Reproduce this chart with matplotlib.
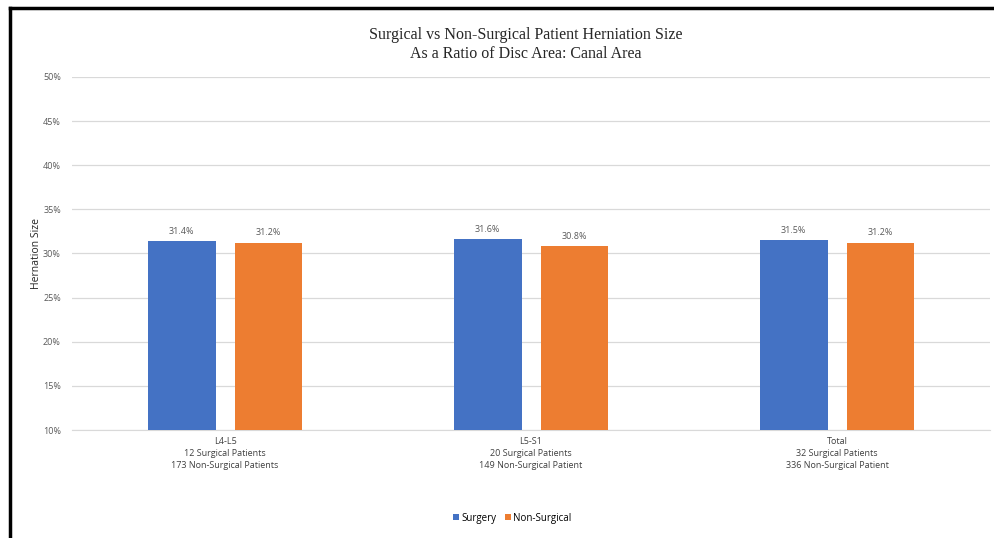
import matplotlib.pyplot as plt
import numpy as np
from matplotlib.lines import Line2D

# Herniation size as disc area : canal area ratio
categories = [
    "L4-L5\n12 Surgical Patients\n173 Non-Surgical Patients",
    "L5-S1\n20 Surgical Patients\n149 Non-Surgical Patient",
    "Total\n32 Surgical Patients\n336 Non-Surgical Patient",
]
surgery = [0.314, 0.316, 0.315]
non_surgical = [0.312, 0.308, 0.312]
yticks = [0.10, 0.15, 0.20, 0.25, 0.30, 0.35, 0.40, 0.45, 0.50]

blue = "#4472c4"
orange = "#ed7d31"
grey = "#595959"

fig = plt.figure(figsize=(9.95, 5.38), dpi=100)
ax = fig.add_axes([0.0724, 0.2007, 0.9226, 0.6563])

x = np.arange(len(categories))
w = 0.222
off = 0.142
b1 = ax.bar(x - off, surgery, w, color=blue, label="Surgery", zorder=3)
b2 = ax.bar(x + off, non_surgical, w, color=orange, label="Non-Surgical", zorder=3)

for bars, vals in ((b1, surgery), (b2, non_surgical)):
    for b, v in zip(bars, vals):
        ax.annotate(f"{v*100:.1f}%", (b.get_x() + b.get_width() / 2, v),
                    xytext=(0, 4), textcoords="offset points",
                    ha="center", va="bottom", fontsize=6.5, color=grey,
                    family="Open Sans")

ax.set_xlim(-0.5, 2.5)
ax.set_ylim(0.10, 0.50)
ax.set_yticks(yticks)
ax.set_yticklabels([f"{int(round(t*100))}%" for t in yticks], fontsize=6.5,
                   color=grey, family="Open Sans")
ax.set_xticks(x)
ax.set_xticklabels(categories, fontsize=6.5, color="#404040", family="Open Sans",
                   linespacing=1.45)
ax.tick_params(axis="y", length=0, pad=8)
ax.tick_params(axis="x", length=0, pad=5)
ax.yaxis.grid(True, color="#d9d9d9", linewidth=0.9, zorder=0)
for s in ("top", "right", "left"):
    ax.spines[s].set_visible(False)
ax.spines["bottom"].set_color("#d9d9d9")

ax.set_ylabel("Hernation Size", fontsize=7.5, color="#262626", family="Open Sans",
              labelpad=1)

fig.text(0.528, 0.935, "Surgical vs Non-Surgical Patient Herniation Size",
         ha="center", va="center", fontsize=11.5, family="Liberation Serif",
         color="#262626")
fig.text(0.528, 0.900, "As a Ratio of Disc Area: Canal Area",
         ha="center", va="center", fontsize=11.5, family="Liberation Serif",
         color="#262626")

fig.legend(handles=[b1, b2], loc="center", bbox_to_anchor=(0.515, 0.037),
           ncol=2, frameon=False, handlelength=0.6, handleheight=0.6,
           columnspacing=0.8, handletextpad=0.3,
           prop={"family": "Open Sans", "size": 7})

# frame edges on top and left
fig.add_artist(Line2D([0.0101, 1.0], [0.985, 0.985], color="black", lw=2.5,
                      transform=fig.transFigure))
fig.add_artist(Line2D([0.0101, 0.0101], [0.0, 0.985], color="black", lw=2.5,
                      transform=fig.transFigure))

fig.savefig("out.png", dpi=100)
